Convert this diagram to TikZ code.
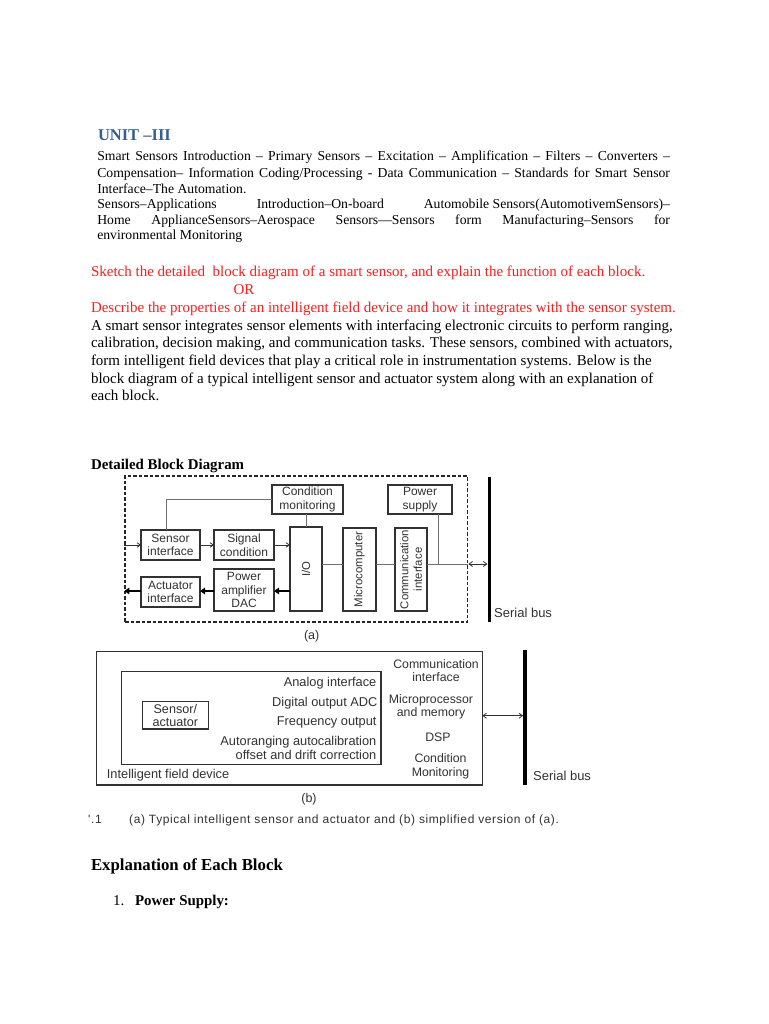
\documentclass[tikz,border=0pt]{standalone}
\usepackage{fontspec}
\setmainfont{Liberation Serif}
\newfontfamily\figsans{Liberation Sans}
\newfontfamily\capsans[LetterSpace=5]{Liberation Sans}
\usetikzlibrary{arrows.meta}
\definecolor{headblue}{RGB}{54,95,145}
\definecolor{qred}{RGB}{255,28,28}
\definecolor{figgray}{RGB}{50,50,50}
\definecolor{linegray}{RGB}{110,110,110}
\begin{document}
\begin{tikzpicture}[x=1pt,y=-1pt,
  txt/.style={inner sep=0pt, outer sep=0pt, anchor=west},
  ptop/.style={txt, font=\fontsize{13.7}{16}\selectfont, text height=9.4pt, text depth=2.6pt},
  pbody/.style={txt, font=\fontsize{15}{17}\selectfont, text height=10.3pt, text depth=2.9pt},
  heading/.style={txt, font=\fontsize{16.5}{18}\selectfont\bfseries, text=headblue},
  sub/.style={txt, font=\fontsize{14.9}{17}\selectfont\bfseries, text height=10.2pt, text depth=2.9pt},
  secthead/.style={txt, font=\fontsize{16.8}{19}\selectfont\bfseries, text height=11.6pt, text depth=3.3pt},
  blk/.style={draw=figgray, line width=1.1, fill=white, inner sep=0pt, outer sep=0pt},
  btext/.style={inner sep=0pt, align=center, text=figgray, font=\figsans\fontsize{12}{13.6}\selectfont},
  rtext/.style={inner sep=0pt, align=center, text=figgray, font=\figsans\fontsize{11.4}{13.4}\selectfont, rotate=90},
  ftext/.style={inner sep=0pt, text=figgray, font=\figsans\fontsize{12.8}{14}\selectfont, text height=9.2pt, text depth=2.6pt},
  conn/.style={draw=linegray, line width=1},
  tarrow/.style={draw=figgray, line width=0.8, -{Straight Barb[length=3.2pt,width=4.5pt]}},
  thkarrow/.style={draw=black, line width=2, -{Triangle[length=5pt,width=6.5pt]}},
  dblarrow/.style={draw=figgray, line width=0.8, {Straight Barb[length=3.5pt,width=5pt]}-{Straight Barb[length=3.5pt,width=5pt]}},
  busbar/.style={fill=black, draw=none, inner sep=0pt, minimum width=3.3pt},
  dframe/.style={draw=black!85, line width=1.4, dash pattern=on 3.5pt off 2pt, inner sep=0pt},
]
\useasboundingbox[fill=white] (0,0) rectangle (768,1024);

% ---------- header ----------
\node[heading, anchor=base west] (unit) at (98,140.7) {UNIT –III};
\node[ptop] (l1) at (97.3,157.5) {\makebox[572.7pt][s]{Smart Sensors Introduction – Primary Sensors – Excitation – Amplification – Filters – Converters –}};
\node[ptop] (l2) at (97.3,173.8) {\makebox[572.7pt][s]{Compensation– Information Coding/Processing - Data Communication – Standards for Smart Sensor}};
\node[ptop] (l3) at (97.3,189.8) {Interface–The Automation.};
\node[ptop] (l4) at (97.3,205.3) {\makebox[572.7pt][s]{Sensors–Applications Introduction–On-board Automobile\kern3.4pt Sensors(AutomotivemSensors)–}};
\node[ptop] (l5) at (97.3,220.7) {\makebox[572.7pt][s]{Home ApplianceSensors–Aerospace Sensors—Sensors form Manufacturing–Sensors for}};
\node[ptop] (l6) at (97.3,236.3) {environmental Monitoring};

% ---------- question ----------
\node[pbody, text=qred] (q1) at (91,272.7) {Sketch the detailed\ \ block diagram of a smart sensor, and explain the function of each block.};
\node[pbody, text=qred, anchor=center] (qor) at (244,291) {OR};
\node[pbody, text=qred] (q2) at (91,309) {Describe the properties of an intelligent field device and how it integrates with the sensor system.};
\node[pbody] (b1) at (91,326.7) {A smart sensor integrates sensor elements with interfacing electronic circuits to perform ranging,};
\node[pbody] (b2) at (91,343.6) {calibration, decision making, and communication tasks. These sensors, combined with actuators,};
\node[pbody] (b3) at (91,361.5) {form intelligent field devices that play a critical role in instrumentation systems. Below is the};
\node[pbody] (b4) at (91,379.3) {block diagram of a typical intelligent sensor and actuator system along with an explanation of};
\node[pbody] (b5) at (91,396.7) {each block.};
\node[sub] (dbd) at (91,466) {Detailed Block Diagram};

% ---------- figure (a) ----------
\node[dframe, minimum width=342.7pt, minimum height=146pt] (frameA) at (296.35,549) {};
\coordinate (busy) at (0,564);
\coordinate (thk) at (0,591);
\coordinate (sigy) at (0,545);

\node[blk, minimum width=71pt, minimum height=29pt] (cond) at (307.5,499.5) {};
\node[btext] at (cond) {Condition\\monitoring};
\node[blk, minimum width=64pt, minimum height=29pt] (psup) at (420,499.5) {};
\node[btext] at (psup) {Power\\supply};
\node[blk, minimum width=59pt, minimum height=30pt] (sens) at (170.5,545) {};
\node[btext] at (sens) {Sensor\\interface};
\node[blk, minimum width=60pt, minimum height=30pt] (sigc) at (244,545) {};
\node[btext] at (sigc) {Signal\\condition};
\node[blk, minimum width=32pt, minimum height=84pt] (io) at (306,569) {};
\node[rtext] at (io) {I/O};
\node[blk, minimum width=33pt, minimum height=83pt] (micro) at (359.5,569.5) {};
\node[rtext] at (micro) {Microcomputer};
\node[blk, minimum width=32pt, minimum height=83pt] (comm) at (411,569.5) {};
\node[rtext] at (comm) {Communication\\interface};
\node[blk, minimum width=60pt, minimum height=42pt] (pamp) at (244,590) {};
\node[btext] at (pamp) {Power\\amplifier\\DAC};
\node[blk, minimum width=59pt, minimum height=30pt] (act) at (170.5,592) {};
\node[btext] at (act) {Actuator\\interface};

\node[busbar, minimum height=145.6pt] (busA) at (489.3,549.5) {};
\node[ftext, anchor=west, font=\figsans\fontsize{13}{14}\selectfont] (serA) at (494,614.3) {Serial bus};
\node[ftext, font=\figsans\fontsize{12.5}{14}\selectfont] (capA) at (311.7,635.7) {(a)};

\coordinate (sensTop) at (166,530);
\coordinate (psx) at (438,564);
\draw[conn] (sensTop) |- (cond.west);
\draw[conn] (io.north |- cond.south) -- (io.north);
\draw[conn] (io.east |- busy) -- (micro.west |- busy);
\draw[conn] (micro.east |- busy) -- (comm.west |- busy);
\draw[conn] (comm.east |- busy) -- (frameA.east |- busy);
\draw[conn] (psup.south -| psx) -- (psx);
\draw[dblarrow] (frameA.east |- busy) -- (busA.west |- busy);

\draw[tarrow] (frameA.west |- sigy) -- (sens.west |- sigy);
\draw[tarrow] (sens.east |- sigy) -- (sigc.west |- sigy);
\draw[tarrow] (sigc.east |- sigy) -- (io.west |- sigy);

\draw[thkarrow] (io.west |- thk) -- (pamp.east |- thk);
\draw[thkarrow] (pamp.west |- thk) -- (act.east |- thk);
\draw[thkarrow] (act.west |- thk) -- (frameA.west |- thk);

% ---------- figure (b) ----------
\node[blk, minimum width=385.6pt, minimum height=133.3pt] (outerB) at (289.5,718.35) {};
\node[blk, minimum width=259.3pt, minimum height=92.6pt] (innerB) at (251.35,718) {};
\node[blk, minimum width=66pt, minimum height=27.3pt] (sa) at (175.3,715.35) {};
\node[btext, font=\figsans\fontsize{12.6}{13}\selectfont] at (sa) {Sensor/\\actuator};

\node[ftext, anchor=east] (ai) at (376.5,682.7) {Analog interface};
\node[ftext, anchor=east] (dadc) at (377.7,702.7) {Digital output ADC};
\node[ftext, anchor=east] (fo) at (376.7,722) {Frequency output};
\node[ftext, anchor=east] (ar) at (376.5,741.7) {Autoranging autocalibration};
\node[ftext, anchor=east] (od) at (376.5,755.7) {offset and drift correction};

\node[btext, font=\figsans\fontsize{12.3}{13.2}\selectfont] (ci) at (436,670.5) {Communication\\interface};
\node[btext, font=\figsans\fontsize{12.3}{13.2}\selectfont] (mm) at (431,706.5) {Microprocessor\\and memory};
\node[btext, font=\figsans\fontsize{12.3}{13.2}\selectfont] (dsp) at (438,737) {DSP};
\node[btext, font=\figsans\fontsize{12.3}{13.7}\selectfont] (cm) at (440.5,766) {Condition\\Monitoring};
\node[ftext, anchor=west] (ifd) at (106.7,775) {Intelligent field device};

\node[busbar, minimum height=135pt] (busB) at (525,717.5) {};
\node[ftext, anchor=west, font=\figsans\fontsize{13}{14}\selectfont] (serB) at (533,776.7) {Serial bus};
\coordinate (arrB) at (0,715.7);
\draw[dblarrow] (outerB.east |- arrB) -- (busB.west |- arrB);
\node[ftext, font=\figsans\fontsize{12.5}{14}\selectfont] (capB) at (309,799) {(b)};

\node[ftext, anchor=west, font=\capsans\fontsize{12}{14}\selectfont] (capnum) at (88,820) {'.1};
\node[ftext, anchor=west, font=\capsans\fontsize{12}{14}\selectfont] (captxt) at (129,820) {(a) Typical intelligent sensor and actuator and (b) simplified version of (a).};

% ---------- explanation ----------
\node[secthead] (expl) at (91,866) {Explanation of Each Block};
\node[pbody] (n1) at (113,902) {1.};
\node[sub] (ps) at (135,902) {Power Supply:};
\end{tikzpicture}
\end{document}
